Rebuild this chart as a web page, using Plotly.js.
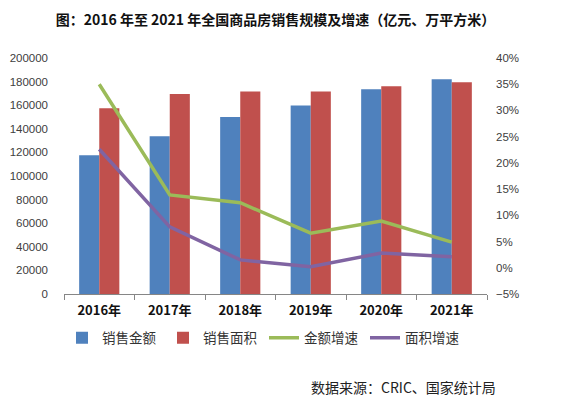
<!DOCTYPE html>
<html>
<head>
<meta charset="utf-8">
<script src="https://cdn.plot.ly/plotly-3.0.1.min.js"></script>
<style>html,body{margin:0;padding:0;background:#fff;}#chart{width:561px;height:399px;}</style>
</head>
<body>
<div id="chart"></div>
<script>
const years = ["2016年", "2017年", "2018年", "2019年", "2020年", "2021年"];
const salesAmount = [117627, 133701, 149973, 159725, 173613, 181930];   // 销售金额（亿元）
const salesArea = [157349, 169408, 171654, 171558, 176086, 179433];     // 销售面积（万平方米）
const amountGrowth = [35.0, 13.9, 12.4, 6.6, 8.9, 4.9];                  // 金额增速 %
const areaGrowth = [22.6, 7.8, 1.5, 0.2, 2.8, 2.1];                      // 面积增速 %
const seriesNames = ["销售金额", "销售面积", "金额增速", "面积增速"];
const titleText = "图：2016 年至 2021 年全国商品房销售规模及增速（亿元、万平方米）";
const sourceText = "数据来源：CRIC、国家统计局";

const cjk = '"Noto Sans CJK SC", "Liberation Sans", sans-serif';
const num = '"Liberation Sans", Arial, sans-serif';

const traces = [
  {type: "bar", name: seriesNames[0], x: years, y: salesAmount, marker: {color: "#4F81BD"}, yaxis: "y"},
  {type: "bar", name: seriesNames[1], x: years, y: salesArea, marker: {color: "#C0504D"}, yaxis: "y"},
  {type: "scatter", mode: "lines", name: seriesNames[2], x: years, y: amountGrowth, line: {color: "#9BBB59", width: 3.5}, yaxis: "y2"},
  {type: "scatter", mode: "lines", name: seriesNames[3], x: years, y: areaGrowth, line: {color: "#8064A2", width: 3.5}, yaxis: "y2"}
];

const layout = {
  width: 561, height: 399,
  margin: {l: 64, r: 74, t: 58, b: 105},
  paper_bgcolor: "#fff", plot_bgcolor: "#fff",
  title: {text: "<b>" + titleText + "</b>", font: {family: cjk, size: 14, color: "#111"}, x: 0.5, xanchor: "center", y: 1 - 20/399, yanchor: "middle", xref: "paper"},
  barmode: "group", bargap: 0.43, bargroupgap: 0,
  xaxis: {
    type: "category", showline: true, linecolor: "#868686", linewidth: 1,
    ticks: "outside", tickson: "boundaries", ticklen: 5, tickcolor: "#868686",
    tickfont: {family: cjk, size: 13, color: "#111", weight: "bold"}, ticklabelstandoff: 4,
    showgrid: false, zeroline: false
  },
  yaxis: {
    range: [0, 200000], dtick: 20000, tick0: 0, showgrid: false, zeroline: false, showline: false,
    tickfont: {family: num, size: 11.5, color: "#404040"}, ticks: "", ticklabelstandoff: 15,
    tickformat: "d"
  },
  yaxis2: {
    overlaying: "y", side: "right", range: [-5, 40], dtick: 5, tick0: 0, ticksuffix: "%",
    showgrid: false, zeroline: false, showline: false,
    tickfont: {family: num, size: 11.5, color: "#404040"}, ticks: "", ticklabelstandoff: 8
  },
  showlegend: true,
  legend: {
    orientation: "h", xref: "container", yref: "container", x: 62/561, xanchor: "left",
    y: 1 - 338/399, yanchor: "middle", font: {family: cjk, size: 13.5, color: "#333"},
    entrywidth: 56, entrywidthmode: "pixels", traceorder: "normal", itemwidth: 30, tracegroupgap: 0
  },
  annotations: [
    {text: sourceText, xref: "paper", yref: "paper", x: (498 - 64) / (561 - 64 - 74), xanchor: "right",
     y: (294 - 387) / (294 - 58), yanchor: "middle",
     showarrow: false, font: {family: cjk, size: 14, color: "#222"}}
  ]
};

Plotly.newPlot("chart", traces, layout, {displayModeBar: false, staticPlot: true});
</script>
</body>
</html>
